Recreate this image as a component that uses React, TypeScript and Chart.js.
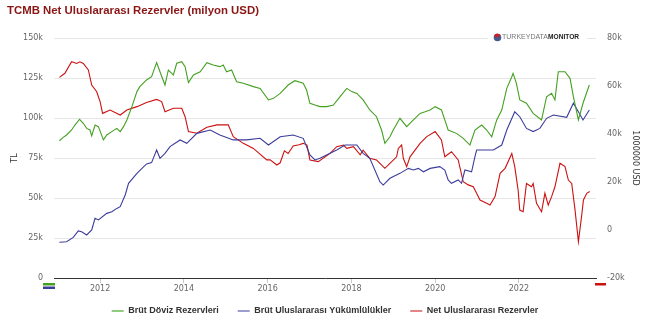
import { useEffect, useRef } from 'react';
import { Chart, registerables } from 'chart.js';

Chart.register(...registerables);

const chartTitle = 'TCMB Net Uluslararası Rezervler (milyon USD)';
const seriesNames = ['Brüt Döviz Rezervleri', 'Brüt Uluslararası Yükümlülükler', 'Net Uluslararası Rezervler'];
const tickYears = [2012, 2014, 2016, 2018, 2020, 2022];
const leftAxisTitle = 'TL';
const rightAxisTitle = '1000000 USD';

// Brüt Döviz Rezervleri (left axis, thousands)
const greenDates = [2011.03, 2011.12, 2011.2, 2011.32, 2011.4, 2011.51, 2011.6, 2011.68, 2011.76, 2011.8, 2011.88, 2011.96, 2012.08, 2012.16, 2012.28, 2012.4, 2012.48, 2012.56, 2012.64, 2012.76, 2012.88, 2012.95, 2013.11, 2013.23, 2013.35, 2013.43, 2013.55, 2013.63, 2013.71, 2013.75, 2013.83, 2013.95, 2014.03, 2014.11, 2014.23, 2014.39, 2014.55, 2014.7, 2014.86, 2014.94, 2015.02, 2015.14, 2015.26, 2015.42, 2015.66, 2015.82, 2016.02, 2016.14, 2016.3, 2016.49, 2016.65, 2016.85, 2016.93, 2017.01, 2017.13, 2017.25, 2017.41, 2017.57, 2017.73, 2017.89, 2018.01, 2018.13, 2018.28, 2018.44, 2018.6, 2018.72, 2018.8, 2018.92, 2019.0, 2019.16, 2019.32, 2019.48, 2019.64, 2019.76, 2019.88, 2020.0, 2020.15, 2020.23, 2020.31, 2020.51, 2020.67, 2020.83, 2020.95, 2021.11, 2021.23, 2021.35, 2021.47, 2021.59, 2021.71, 2021.83, 2021.86, 2021.94, 2022.02, 2022.18, 2022.34, 2022.54, 2022.66, 2022.78, 2022.86, 2022.94, 2023.1, 2023.22, 2023.3, 2023.42, 2023.53, 2023.68];
const greenValues = [85.8, 87.9, 89.4, 92.5, 95.6, 99.2, 96.7, 93.5, 92.5, 88.8, 95.6, 94.6, 86.3, 89.4, 91.5, 93.5, 91.5, 94.6, 98.8, 107.1, 116.5, 119.6, 123.8, 125.8, 134.6, 128.9, 120.6, 130, 127.9, 126.9, 134.2, 135.2, 132.1, 122.1, 126.9, 128.9, 134.6, 133.1, 132.1, 133.1, 128.9, 130, 122.7, 121.7, 119.6, 118.5, 111.3, 112.3, 115.4, 120.6, 123.3, 121.7, 117.5, 109.2, 108.1, 107.1, 107.1, 108.1, 113.3, 118.5, 116.5, 115.4, 111.3, 105, 100.8, 92.5, 84.2, 88.3, 92.5, 99.8, 94.6, 98.8, 102.9, 103.9, 105, 107.1, 105, 98.8, 92.5, 90.4, 87.3, 83.1, 92.5, 95.6, 92.5, 88.3, 98.8, 105, 118.5, 125.8, 127.9, 121.7, 111.3, 109.2, 102.9, 98.8, 113.3, 115.4, 111.3, 128.9, 128.9, 124.8, 113.3, 98.8, 109.2, 120.6];

// Brüt Uluslararası Yükümlülükler (left axis, thousands)
const blueDates = [2011.03, 2011.2, 2011.36, 2011.48, 2011.56, 2011.68, 2011.8, 2011.88, 2011.96, 2012.16, 2012.28, 2012.4, 2012.48, 2012.6, 2012.68, 2012.88, 2013.11, 2013.23, 2013.35, 2013.43, 2013.55, 2013.67, 2013.91, 2014.07, 2014.31, 2014.63, 2014.86, 2015.18, 2015.5, 2015.82, 2016.02, 2016.3, 2016.61, 2016.85, 2017.01, 2017.13, 2017.25, 2017.65, 2017.85, 2018.13, 2018.28, 2018.44, 2018.68, 2018.76, 2018.92, 2019.16, 2019.36, 2019.48, 2019.6, 2019.72, 2019.88, 2020.11, 2020.23, 2020.31, 2020.39, 2020.55, 2020.63, 2020.71, 2020.87, 2020.95, 2020.99, 2021.15, 2021.39, 2021.59, 2021.71, 2021.9, 2022.02, 2022.18, 2022.34, 2022.5, 2022.66, 2022.82, 2023.14, 2023.3, 2023.42, 2023.53, 2023.68];
const blueValues = [22.3, 22.7, 25.4, 29.4, 28.9, 26.9, 30, 37.3, 36.3, 40.4, 41.4, 43.5, 44.6, 51.9, 59.2, 65.4, 71.3, 72.1, 80, 74.8, 77.9, 82.1, 86.3, 84.2, 90.4, 92.5, 89.4, 86.3, 86.3, 87.3, 83.1, 88.3, 89.4, 87.3, 76.9, 73.8, 74.8, 80, 83.1, 83.1, 77.9, 74.8, 60.2, 58.1, 62.3, 65.4, 68.5, 67.5, 68.5, 66.4, 68.5, 69.6, 67.5, 61.3, 59.2, 61.3, 59.2, 67.5, 66.4, 75.8, 80, 80, 80, 83.1, 92.5, 103.9, 100.8, 93.5, 91.5, 93.5, 99.8, 101.9, 100.4, 109.2, 103.9, 98.8, 105];

// Net Uluslararası Rezervler (right axis, thousands)
const redDates = [2011.03, 2011.16, 2011.32, 2011.44, 2011.52, 2011.6, 2011.72, 2011.8, 2011.92, 2012.0, 2012.06, 2012.24, 2012.48, 2012.64, 2012.88, 2013.11, 2013.35, 2013.47, 2013.55, 2013.75, 2013.95, 2014.03, 2014.11, 2014.31, 2014.55, 2014.79, 2015.06, 2015.18, 2015.42, 2015.66, 2015.98, 2016.06, 2016.22, 2016.3, 2016.4, 2016.49, 2016.61, 2016.75, 2016.85, 2016.94, 2017.01, 2017.21, 2017.49, 2017.65, 2017.81, 2017.89, 2018.05, 2018.21, 2018.28, 2018.44, 2018.6, 2018.68, 2018.8, 2018.92, 2019.08, 2019.12, 2019.2, 2019.24, 2019.32, 2019.4, 2019.64, 2019.8, 2020.0, 2020.15, 2020.23, 2020.39, 2020.55, 2020.67, 2020.79, 2020.91, 2020.99, 2021.07, 2021.23, 2021.31, 2021.43, 2021.55, 2021.67, 2021.83, 2021.9, 2021.98, 2022.02, 2022.1, 2022.18, 2022.3, 2022.34, 2022.42, 2022.54, 2022.62, 2022.7, 2022.78, 2022.86, 2022.98, 2023.1, 2023.18, 2023.26, 2023.34, 2023.42, 2023.5, 2023.54, 2023.62, 2023.69];
const redValues = [63.6, 65.3, 70.1, 69.4, 70.1, 69.4, 66.7, 60.4, 57.6, 53.5, 48.6, 50, 47.9, 50, 51.4, 53.1, 54.4, 53.5, 49.3, 50.7, 50.7, 47.2, 41, 40.3, 42.8, 43.8, 43.8, 38.9, 36.1, 34, 29.2, 29.2, 27.1, 28, 33, 31.9, 35, 35.5, 36.1, 35.4, 29.2, 28.5, 31.9, 34.7, 35.4, 34, 34.7, 31.3, 33.3, 29.9, 29.2, 27.8, 25.7, 27.8, 30.5, 34, 35.4, 29.9, 26.4, 30.5, 36.1, 38.9, 41, 37.5, 30.5, 32.6, 29.2, 20.1, 18.8, 18, 15.3, 12.5, 11.1, 10.4, 13.9, 23.6, 25.7, 31.9, 26.4, 16.7, 8.3, 7.6, 19.4, 18, 19.4, 11.1, 7.6, 15.3, 10.4, 13.9, 18, 27.8, 26.4, 20.8, 19.4, 8.3, -4.9, 6.3, 12.5, 15.3, 16];

const lineColors = ['#44a021', '#3c3c9c', '#cc1111'];
const legendColors = ['#8fcc7f', '#9d9dd1', '#e38585'];

const tickFont = { family: "'DejaVu Sans', sans-serif", size: 8 };
const kLabel = (v: number) => (v === 0 ? '0' : `${v}k`);

const decorPlugin = {
  id: 'decor',
  afterLayout(chart: any) {
    const lg = chart.legend;
    if (lg) {
      const h = lg.bottom - lg.top;
      lg.top = 287.5;
      lg.bottom = lg.top + h;
    }
  },
  afterDraw(chart: any) {
    const { ctx, chartArea } = chart;
    ctx.save();
    // title
    ctx.font = "bold 11.4px 'Liberation Sans', Arial, sans-serif";
    ctx.fillStyle = '#8b1515';
    ctx.textBaseline = 'middle';
    ctx.textAlign = 'left';
    ctx.fillText(chartTitle, 7, 11);
    // logo
    ctx.fillStyle = '#ffffff';
    ctx.fillRect(488, 31, 99, 13);
    ctx.beginPath();
    ctx.arc(497.5, 37.5, 3.8, 0, Math.PI * 2);
    ctx.fillStyle = '#4a5a8c';
    ctx.fill();
    ctx.beginPath();
    ctx.moveTo(497.5, 37.5);
    ctx.arc(497.5, 37.5, 3.8, Math.PI * 1.1, Math.PI * 1.8);
    ctx.closePath();
    ctx.fillStyle = '#c8202a';
    ctx.fill();
    ctx.font = "7px 'Liberation Sans', Arial, sans-serif";
    ctx.fillStyle = '#777';
    ctx.fillText('TURKEYDATA', 502, 37.5);
    const w = ctx.measureText('TURKEYDATA').width;
    ctx.font = "bold 6.6px 'Liberation Sans', Arial, sans-serif";
    ctx.fillStyle = '#222';
    ctx.fillText('MONITOR', 502 + w, 37.5);
    // axis markers
    ctx.fillStyle = lineColors[0];
    ctx.fillRect(chartArea.left - 11, chartArea.bottom + 5, 12, 2.5);
    ctx.fillStyle = lineColors[1];
    ctx.fillRect(chartArea.left - 11, chartArea.bottom + 8.5, 12, 2.5);
    ctx.fillStyle = lineColors[2];
    ctx.fillRect(chartArea.right - 1, chartArea.bottom + 5, 11, 2.5);
    ctx.restore();
  },
};

export default function App() {
  const canvasRef = useRef<HTMLCanvasElement | null>(null);

  useEffect(() => {
    if (!canvasRef.current) return;
    const mk = (dates: number[], values: number[]) => dates.map((x, i) => ({ x, y: values[i] }));
    const chart = new Chart(canvasRef.current, {
      type: 'line',
      data: {
        datasets: [
          { label: seriesNames[0], data: mk(greenDates, greenValues), borderColor: lineColors[0], backgroundColor: legendColors[0], yAxisID: 'y' },
          { label: seriesNames[1], data: mk(blueDates, blueValues), borderColor: lineColors[1], backgroundColor: legendColors[1], yAxisID: 'y' },
          { label: seriesNames[2], data: mk(redDates, redValues), borderColor: lineColors[2], backgroundColor: legendColors[2], yAxisID: 'y1' },
        ],
      },
      options: {
        animation: false,
        responsive: false,
        maintainAspectRatio: false,
        layout: { padding: { top: 38, bottom: -4, left: 0, right: 0 } },
        elements: { point: { radius: 0 }, line: { borderWidth: 1.1, tension: 0 } },
        plugins: {
          title: { display: false },
          tooltip: { enabled: false },
          legend: {
            position: 'bottom',
            labels: {
              boxWidth: 12,
              boxHeight: 2,
              padding: 19,
              color: '#333',
              font: { family: "'Liberation Sans', Arial, sans-serif", size: 9, weight: 'bold' },
              generateLabels: (c: any) =>
                (Chart.defaults.plugins.legend.labels as any).generateLabels(c).map((l: any) => ({ ...l, lineWidth: 0 })),
            },
          },
        },
        scales: {
          x: {
            type: 'linear',
            min: 2010.9,
            max: 2023.84,
            afterBuildTicks: (s: any) => {
              s.ticks = tickYears.map((v) => ({ value: v }));
            },
            afterFit: (s: any) => {
              s.height = 18;
            },
            ticks: { callback: (v: any) => String(v), font: tickFont, color: '#666', padding: 1, maxRotation: 0, autoSkip: false },
            grid: { display: true, drawOnChartArea: false, drawTicks: true, tickLength: 5, color: '#c8c8c8' },
            border: { display: true, color: '#333', width: 1 },
          },
          y: {
            position: 'left',
            min: 0,
            max: 150,
            ticks: { stepSize: 25, callback: (v: any) => kLabel(v), font: tickFont, color: '#666', padding: 11 },
            grid: { color: '#e6e6e6', drawTicks: false },
            border: { display: false },
            title: { display: true, text: leftAxisTitle, font: tickFont, color: '#333', padding: { top: 10, bottom: 0 } },
            afterFit: (s: any) => {
              s.width = 54;
            },
          },
          y1: {
            position: 'right',
            min: -20,
            max: 80,
            ticks: { stepSize: 20, callback: (v: any) => kLabel(v), font: tickFont, color: '#666', padding: 11 },
            grid: { display: false, drawTicks: false },
            border: { display: false },
            title: { display: true, text: rightAxisTitle, font: tickFont, color: '#333', padding: { top: 10, bottom: 0 } },
            afterFit: (s: any) => {
              s.width = 54;
            },
          },
        },
      },
      plugins: [decorPlugin],
    } as any);
    return () => chart.destroy();
  }, []);

  return (
    <div style={{ position: 'fixed', left: 0, top: 0, width: 650, height: 330, background: '#fff' }}>
      <canvas ref={canvasRef} width={650} height={330} style={{ display: 'block' }} />
    </div>
  );
}
